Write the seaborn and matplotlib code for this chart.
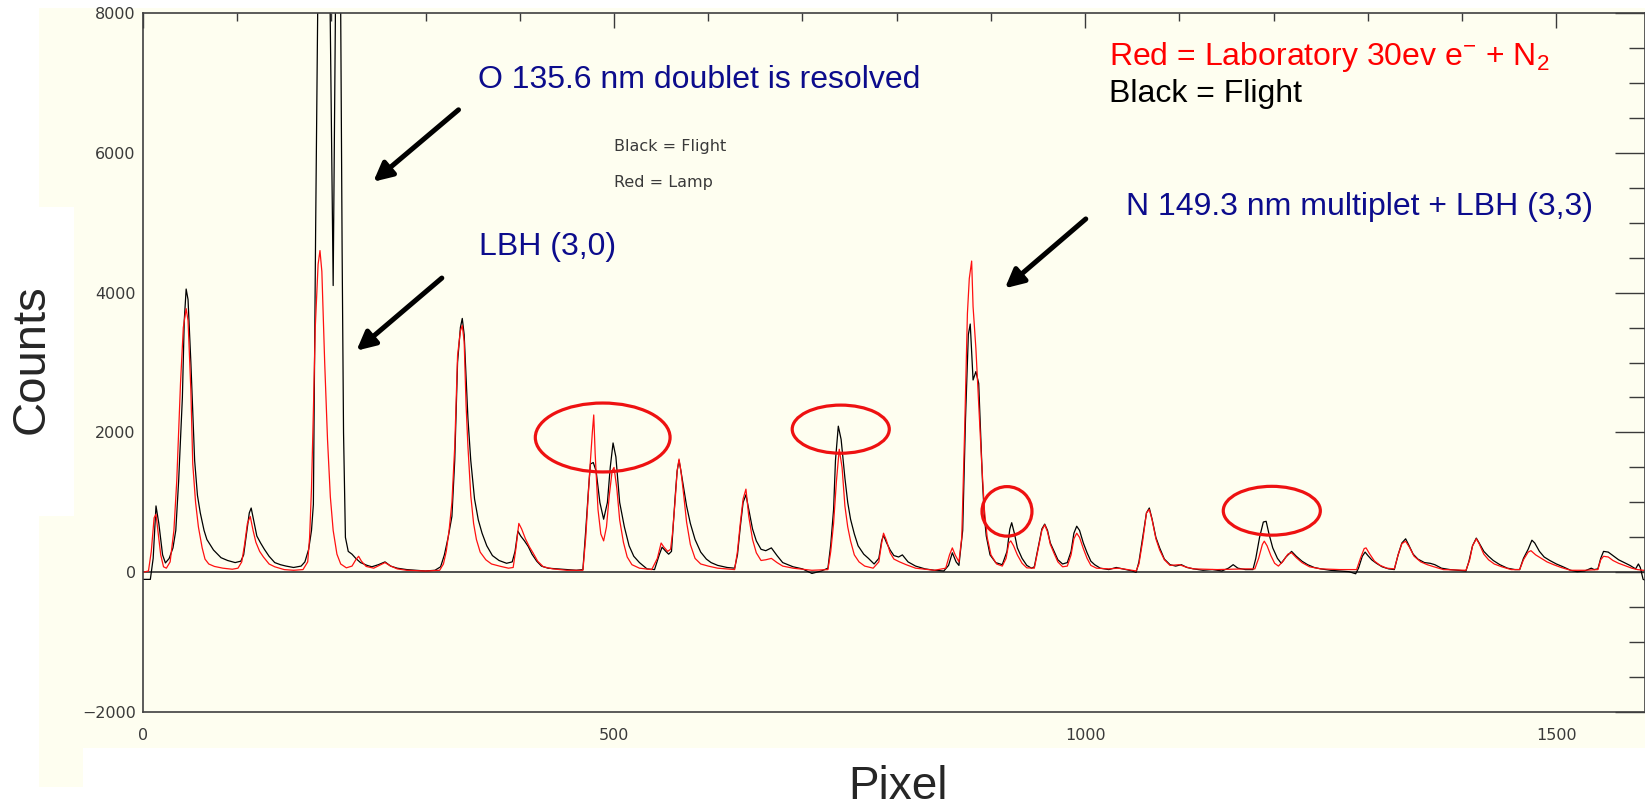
import matplotlib
matplotlib.use("Agg")
import matplotlib.pyplot as plt
from matplotlib.patches import Ellipse, Rectangle
from matplotlib.ticker import MultipleLocator
import seaborn as sns

# flight spectrum (black): pixel, counts
flight_px = [0, 8, 11, 14, 17, 21, 24, 28, 32, 35, 38, 42, 44, 46, 48, 51, 55, 58, 61, 65,
             68, 75, 83, 90, 98, 104, 107, 110, 113, 115, 118, 121, 125, 129, 134, 140, 146, 152, 160, 168,
             172, 176, 179, 181, 183.4, 185.5, 187, 193, 198, 202, 205, 208, 210, 211.5, 213, 215, 218, 222, 226, 231,
             238, 243, 250, 257, 263, 270, 280, 290, 300, 310, 316, 320, 324, 328, 331, 334, 337, 339, 341, 343,
             345, 348, 352, 356, 360, 365, 371, 378, 386, 392, 395, 398, 401, 405, 409, 413, 418, 423, 430, 440,
             450, 460, 467, 470, 473, 475, 478, 481, 485, 489, 493, 496, 499, 502, 506, 511, 516, 521, 527, 535,
             543, 548, 551, 555, 558, 561, 563, 565, 567, 569, 571, 573, 577, 581, 586, 592, 598, 603, 610, 620,
             628, 631, 634, 637, 640, 643, 647, 651, 656, 661, 667, 673, 679, 690, 700, 710, 720, 727, 730, 733,
             735, 738, 741, 745, 748, 751, 755, 759, 765, 770, 776, 781, 784, 786, 789, 793, 797, 802, 806, 812,
             820, 830, 840, 850, 855, 859, 863, 866, 870, 873, 876, 878, 881, 884, 887, 889, 891, 893, 895, 899,
             905, 912, 917, 920, 922, 925, 928, 933, 938, 943, 946, 950, 954, 957, 960, 963, 967, 971, 976, 981,
             985, 988, 991, 994, 998, 1002, 1006, 1010, 1016, 1025, 1033, 1040, 1050, 1054, 1057, 1061, 1065, 1068, 1071, 1075,
             1079, 1084, 1090, 1096, 1102, 1108, 1115, 1125, 1135, 1145, 1152, 1157, 1162, 1170, 1178, 1181, 1185, 1189, 1192, 1195,
             1199, 1204, 1208, 1213, 1219, 1224, 1230, 1236, 1243, 1250, 1260, 1270, 1280, 1287, 1290, 1294, 1297, 1300, 1304, 1309,
             1315, 1322, 1328, 1332, 1336, 1340, 1343, 1348, 1353, 1360, 1366, 1371, 1378, 1387, 1395, 1404, 1407, 1411, 1415, 1418,
             1423, 1428, 1433, 1440, 1448, 1456, 1461, 1465, 1470, 1474, 1477, 1482, 1487, 1493, 1500, 1507, 1515, 1522, 1530, 1537,
             1540, 1544, 1547, 1550, 1555, 1560, 1566, 1572, 1578, 1584, 1587, 1589, 1592, 1594]
flight_counts = [-100, -100, 200, 950, 700, 250, 135, 200, 350, 600, 1300, 2500, 3600, 4050, 3900, 3000, 1600, 1100, 850, 600,
                 470, 320, 210, 170, 140, 160, 250, 550, 850, 920, 720, 520, 420, 330, 230, 140, 110, 90, 70, 90,
                 150, 330, 600, 970, 4900, 8000, 9500, 12000, 9000, 4100, 9000, 11000, 8000, 4600, 2000, 500, 300, 260, 200, 140,
                 100, 80, 110, 150, 90, 60, 40, 30, 20, 30, 80, 250, 500, 800, 1600, 3000, 3500, 3630, 3400, 2800,
                 2200, 1600, 1050, 750, 560, 380, 240, 170, 130, 150, 300, 590, 520, 450, 370, 260, 160, 90, 60, 50,
                 40, 30, 40, 600, 1200, 1550, 1570, 1450, 1000, 760, 1000, 1500, 1850, 1650, 1000, 650, 380, 230, 140, 50,
                 40, 250, 360, 300, 260, 300, 700, 1100, 1450, 1600, 1450, 1280, 950, 700, 470, 290, 190, 140, 100, 70,
                 60, 250, 650, 1000, 1110, 900, 620, 450, 330, 310, 350, 240, 140, 80, 50, -15, 20, 60, 400, 900,
                 1600, 2090, 1900, 1350, 1000, 760, 550, 380, 260, 200, 120, 200, 450, 530, 430, 320, 240, 220, 250, 150,
                 90, 50, 30, 20, 100, 280, 150, 100, 600, 2200, 3400, 3550, 2750, 2870, 2700, 2000, 1300, 800, 520, 250,
                 140, 110, 300, 620, 710, 550, 350, 200, 100, 60, 80, 350, 620, 690, 600, 420, 300, 180, 120, 140,
                 300, 560, 660, 600, 420, 280, 160, 110, 60, 40, 70, 50, 20, 0, 150, 500, 850, 920, 760, 500,
                 350, 190, 110, 90, 110, 70, 50, 30, 40, 20, 60, 110, 60, 40, 40, 200, 500, 720, 730, 550,
                 350, 200, 130, 220, 300, 230, 160, 110, 70, 50, 30, 20, 10, -20, 60, 230, 290, 240, 180, 130,
                 80, 50, 40, 250, 420, 480, 400, 260, 190, 140, 130, 110, 60, 40, 30, 20, 150, 380, 490, 420,
                 300, 230, 170, 110, 60, 40, 40, 200, 330, 460, 420, 300, 220, 170, 120, 80, 30, 10, 20, 60,
                 40, 50, 200, 300, 290, 240, 180, 140, 100, 50, 120, 70, -100, -110]

# laboratory spectrum (red): pixel, counts
lab_px = [0, 6, 9, 12, 14, 16, 19, 22, 25, 29, 33, 36, 40, 43, 46, 48, 51, 53, 56, 59,
          63, 66, 70, 76, 85, 95, 101, 105, 108, 111, 114, 117, 120, 124, 128, 134, 140, 150, 160, 170,
          175, 177, 179, 181, 183, 186, 188, 190, 193, 196, 199, 202, 206, 210, 216, 222, 226, 229, 232, 237,
          245, 251, 257, 263, 270, 280, 300, 315, 319, 322, 325, 328, 331, 334, 337, 339, 341, 343, 345, 348,
          351, 354, 358, 364, 370, 379, 388, 393, 396, 399, 402, 406, 410, 414, 419, 425, 435, 450, 467, 470,
          474, 477, 478.5, 480, 483, 486, 489, 492, 495, 498, 500, 503, 506, 510, 514, 519, 527, 540, 546, 550,
          553, 557, 560, 562, 565, 567, 569, 571, 574, 577, 581, 586, 592, 600, 610, 628, 631, 634, 637, 640,
          643, 647, 651, 656, 661, 667, 673, 679, 690, 710, 727, 730, 733, 736, 739, 742, 745, 748, 751, 755,
          760, 766, 775, 781, 784, 786, 789, 793, 797, 803, 810, 820, 840, 852, 856, 859, 862, 866, 869, 872,
          875, 877, 879.5, 881, 884, 887, 890, 893, 896, 900, 906, 912, 916, 919, 921, 924, 928, 933, 938, 946,
          950, 954, 957, 960, 963, 967, 971, 976, 981, 985, 988, 991, 994, 998, 1002, 1006, 1012, 1025, 1035, 1045,
          1054, 1057, 1061, 1065, 1068, 1071, 1075, 1079, 1084, 1090, 1100, 1106, 1115, 1140, 1170, 1180, 1184, 1188, 1190, 1193,
          1197, 1201, 1205, 1210, 1215, 1219, 1224, 1230, 1238, 1250, 1270, 1288, 1292, 1296, 1298, 1302, 1307, 1313, 1320, 1328,
          1332, 1336, 1340, 1344, 1349, 1356, 1363, 1370, 1380, 1404, 1408, 1411, 1415, 1418, 1423, 1428, 1434, 1442, 1452, 1461,
          1465, 1470, 1473, 1478, 1484, 1490, 1497, 1505, 1515, 1530, 1544, 1547, 1550, 1555, 1560, 1566, 1572, 1580, 1586, 1592,
          1594]
lab_counts = [0, 20, 300, 780, 830, 600, 250, 80, 60, 150, 600, 1300, 2700, 3500, 3770, 3600, 2600, 1550, 1000, 650,
              350, 190, 120, 85, 60, 45, 60, 150, 400, 700, 800, 600, 430, 300, 220, 120, 80, 40, 30, 40,
              150, 500, 1200, 2300, 3500, 4400, 4600, 4300, 3000, 1900, 1080, 600, 260, 120, 65, 90, 180, 230, 160, 85,
              60, 100, 140, 90, 50, 30, 20, 30, 120, 300, 600, 1000, 1800, 3100, 3450, 3530, 3300, 2400, 1800, 1100,
              700, 470, 290, 180, 120, 88, 60, 70, 350, 700, 620, 480, 370, 280, 160, 80, 50, 30, 30, 500,
              1400, 2000, 2250, 1700, 900, 550, 450, 650, 1100, 1450, 1500, 1200, 750, 430, 220, 110, 60, 40, 200, 420,
              360, 300, 330, 550, 1050, 1450, 1620, 1450, 1100, 720, 400, 200, 120, 90, 60, 40, 300, 700, 1050, 1190,
              800, 470, 280, 170, 180, 200, 140, 90, 60, 30, 40, 300, 700, 1300, 1760, 1500, 950, 650, 450, 250,
              150, 90, 60, 150, 420, 560, 460, 280, 190, 150, 110, 60, 30, 60, 250, 350, 250, 150, 500, 2000,
              3700, 4200, 4450, 3800, 3200, 2400, 1600, 900, 500, 250, 120, 90, 200, 420, 450, 380, 250, 130, 65, 60,
              330, 600, 680, 580, 400, 270, 150, 80, 90, 250, 480, 560, 500, 340, 200, 100, 60, 50, 60, 40,
              20, 120, 450, 850, 900, 750, 480, 320, 180, 100, 110, 80, 50, 40, 50, 50, 200, 400, 446, 380,
              240, 130, 90, 160, 260, 280, 210, 140, 80, 50, 40, 40, 200, 340, 350, 260, 160, 100, 60, 50,
              250, 410, 446, 360, 230, 150, 110, 80, 40, 30, 180, 380, 480, 410, 260, 180, 120, 80, 40, 40,
              180, 290, 310, 250, 200, 150, 110, 70, 30, 30, 40, 180, 230, 220, 170, 130, 100, 60, 40, 30,
              30]

W, H = 1645, 809
cream = '#fefef0'
navy = '#0c0c8c'

sns.set_style('white')
plt.rcParams['font.family'] = ['Liberation Sans', 'DejaVu Sans']
plt.rcParams['mathtext.default'] = 'regular'

fig = plt.figure(figsize=(W / 100, H / 100), dpi=100, facecolor='white')


def box(x0, y0, x1, y1, color):
    fig.add_artist(Rectangle((x0 / W, 1 - y1 / H), (x1 - x0) / W, (y1 - y0) / H,
                             transform=fig.transFigure, facecolor=color, edgecolor='none', zorder=-10))


# pasted-slide background
box(39, 8, W, 748, cream)
box(39, 748, 83, 787, cream)
box(0, 207, 74, 516, 'white')

ax = fig.add_axes([142.8 / W, 1 - 712.3 / H, (W - 142.8) / W, (712.3 - 12.7) / H])
ax.set_facecolor(cream)

sns.lineplot(x=flight_px, y=flight_counts, color='black', lw=0.9, sort=False, estimator=None, ax=ax)
sns.lineplot(x=lab_px, y=lab_counts, color='#ff1010', lw=0.9, sort=False, estimator=None, ax=ax)
ax.axhline(0, color='#333333', lw=1.2, zorder=1)

ax.set_xlim(0, 1594)
ax.set_ylim(-2000, 8000)
ax.set_xlabel('')
ax.set_ylabel('')
ax.xaxis.set_major_locator(MultipleLocator(500))
ax.xaxis.set_minor_locator(MultipleLocator(100))
ax.yaxis.set_major_locator(MultipleLocator(2000))
ax.yaxis.set_minor_locator(MultipleLocator(500))
ax.tick_params(direction='in', top=True, right=True, colors='#3a3a3a', width=1.0,
               labelsize=11.5, labelcolor='#3a3a3a', which='both')
ax.tick_params(axis='x', which='major', length=10.6, pad=11)
ax.tick_params(axis='x', which='minor', length=5.8)
ax.tick_params(axis='y', which='major', length=21.6, pad=5)
ax.tick_params(axis='y', which='minor', length=11.3)
for lab in ax.get_xticklabels() + ax.get_yticklabels():
    lab.set_family('DejaVu Sans')
for sp in ax.spines.values():
    sp.set_color('#404040')
    sp.set_linewidth(1.2)

# circled features
for cx, cy, w, h in [(488, 1928, 143, 985), (740.6, 2047, 103, 688),
                     (917, 872, 53, 708), (1198, 881, 103, 698)]:
    ax.add_patch(Ellipse((cx, cy), w, h, fill=False, ec='#ee1111', lw=2.3, zorder=5))

# arrows
for tail, tip in [((335, 6612), (244.6, 5584)), ((317.3, 4207), (226.7, 3169)),
                  ((1000.6, 5052), (914.8, 4061))]:
    ax.annotate('', xy=tip, xytext=tail,
                arrowprops=dict(arrowstyle='-|>', lw=3.6, color='black', mutation_scale=28,
                                shrinkA=0, shrinkB=0))

ax.text(356, 6930, 'O 135.6 nm doublet is resolved', color=navy, fontsize=23, va='baseline')
ax.text(356.3, 4541, 'LBH (3,0)', color=navy, fontsize=23, va='baseline')
ax.text(1043.4, 5104, 'N 149.3 nm multiplet + LBH (3,3)', color=navy, fontsize=23, va='baseline')
ax.text(1025, 7254, 'Red = Laboratory 30ev e$^{-}$ + N$_{2}$', color='#ff0000', fontsize=23, va='baseline')
ax.text(1025, 6729, 'Black = Flight', color='black', fontsize=23, va='baseline')
ax.text(500.3, 6021, 'Black = Flight', color='#3a3a3a', fontsize=11.5, va='baseline', family='DejaVu Sans')
ax.text(500.3, 5511, 'Red = Lamp', color='#3a3a3a', fontsize=11.5, va='baseline', family='DejaVu Sans')

fig.text(31.5 / W, 1 - 359 / H, 'Counts', rotation=90, fontsize=34, ha='center', va='center')
fig.text(898 / W, 1 - 799 / H, 'Pixel', fontsize=33, ha='center', va='baseline')

fig.savefig('out.png', dpi=100, facecolor='white')
